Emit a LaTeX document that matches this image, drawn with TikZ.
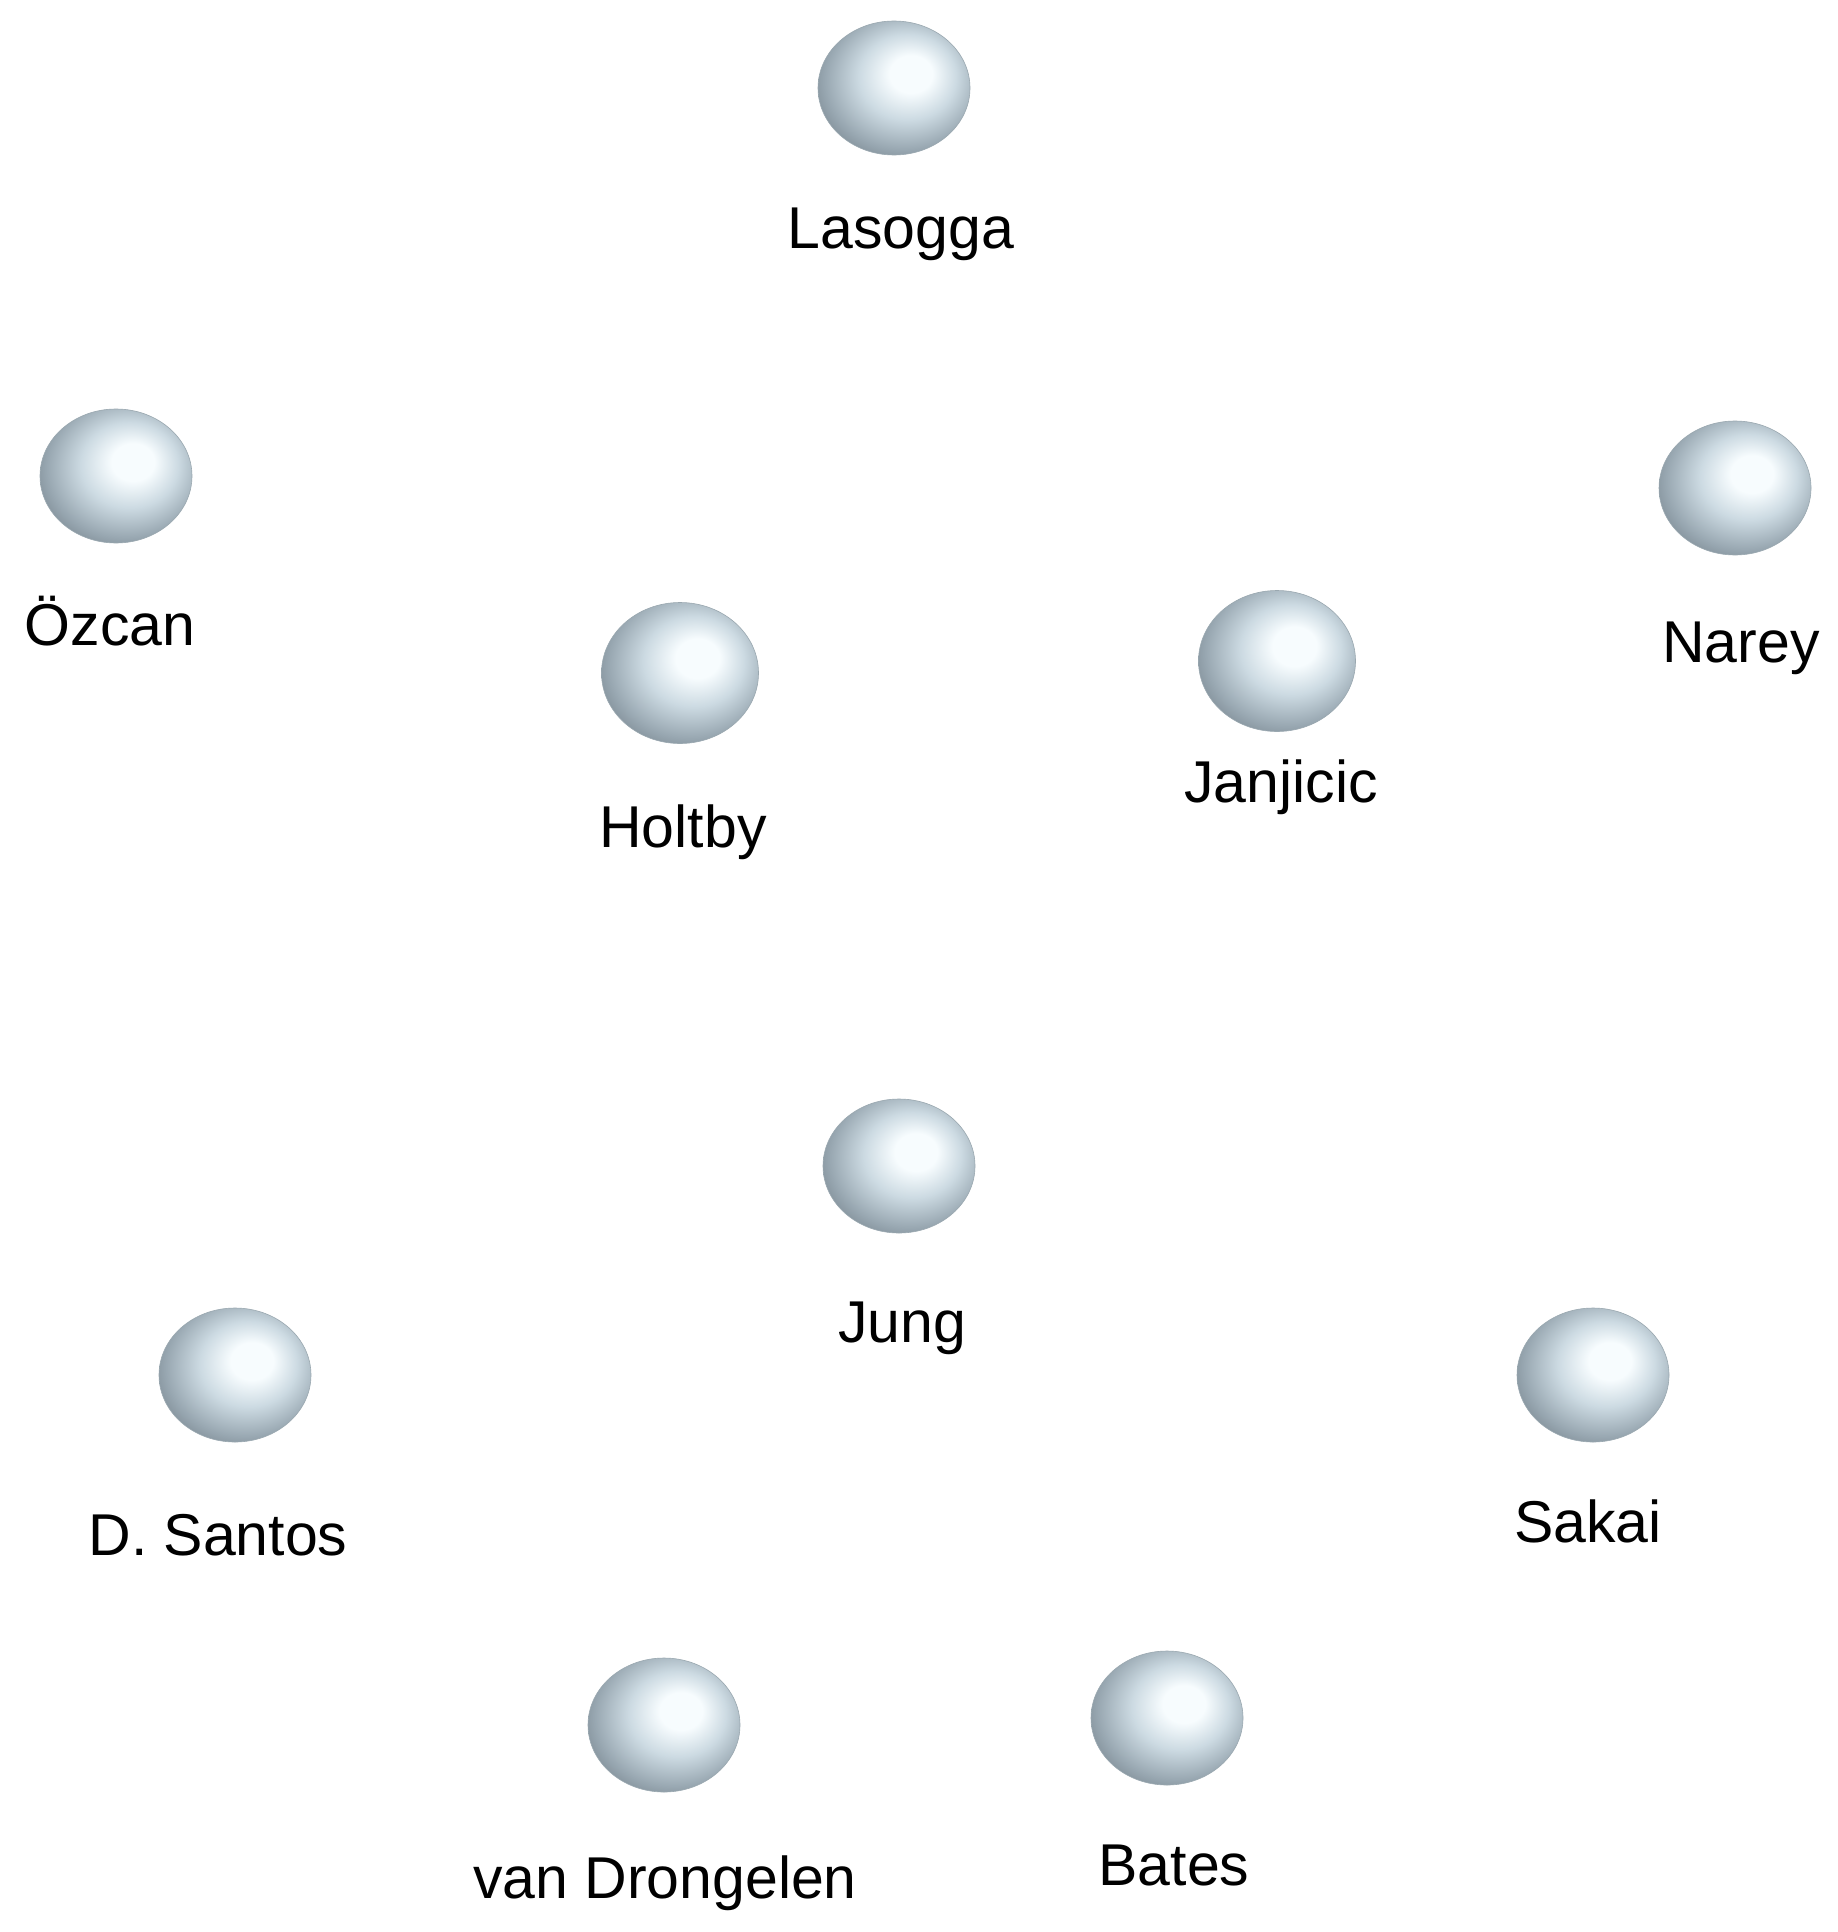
\documentclass[tikz,border=0pt]{standalone}
\usepackage{fontspec}
\setmainfont{Liberation Sans}
\usetikzlibrary{shapes.geometric,positioning}
\definecolor{pearlhi}{HTML}{F7FCFE}
\definecolor{pearlmid}{HTML}{CCDAE2}
\definecolor{pearllo}{HTML}{98A7B1}
\definecolor{pearldk}{HTML}{66727B}
\definecolor{pearledge}{HTML}{9AA8B0}
\pgfdeclareradialshading{pearl}{\pgfpoint{6.5bp}{6bp}}{color(0bp)=(pearlhi); color(7bp)=(pearlhi); color(16bp)=(pearlmid); color(26bp)=(pearllo); color(36bp)=(pearldk); color(50bp)=(pearldk)}

\begin{document}
\begin{tikzpicture}[x=0.5pt,y=-0.5pt,
   player/.style={ellipse,inner sep=0pt,minimum width=76pt,minimum height=67pt,shading=pearl,draw=pearledge,line width=0.3pt},
   bigplayer/.style={player,minimum width=78.5pt,minimum height=70.5pt},
   plabel/.style={anchor=base,inner sep=0pt,font=\fontsize{29.5}{35}\selectfont}]
   \useasboundingbox[fill=white] (0,0) rectangle (1837,1932);

   % players
   \node[player] (lasogga) at (894,88) {};
   \node[player] (oezcan) at (116,476) {};
   \node[player] (narey) at (1735,488) {};
   \node[bigplayer] (holtby) at (680,673) {};
   \node[bigplayer] (janjicic) at (1277,661) {};
   \node[player] (jung) at (899,1166) {};
   \node[player] (santos) at (235,1375) {};
   \node[player] (sakai) at (1593,1375) {};
   \node[player] (drongelen) at (664,1725) {};
   \node[player] (bates) at (1167,1718) {};

   % names
   \node[plabel] (lasogga-txt) at (901,248) {Lasogga};
   \node[plabel] (oezcan-txt) at (110,645) {Özcan};
   \node[plabel] (narey-txt) at (1741,662) {Narey};
   \node[plabel] (holtby-txt) at (683,847) {Holtby};
   \node[plabel] (janjicic-txt) at (1281,802) {Janjicic};
   \node[plabel] (jung-txt) at (902,1342) {Jung};
   \node[plabel] (santos-txt) at (218,1555) {D. Santos};
   \node[plabel] (sakai-txt) at (1588,1542) {Sakai};
   \node[plabel] (drongelen-txt) at (665,1898) {van Drongelen};
   \node[plabel] (bates-txt) at (1174,1885) {Bates};
\end{tikzpicture}
\end{document}
